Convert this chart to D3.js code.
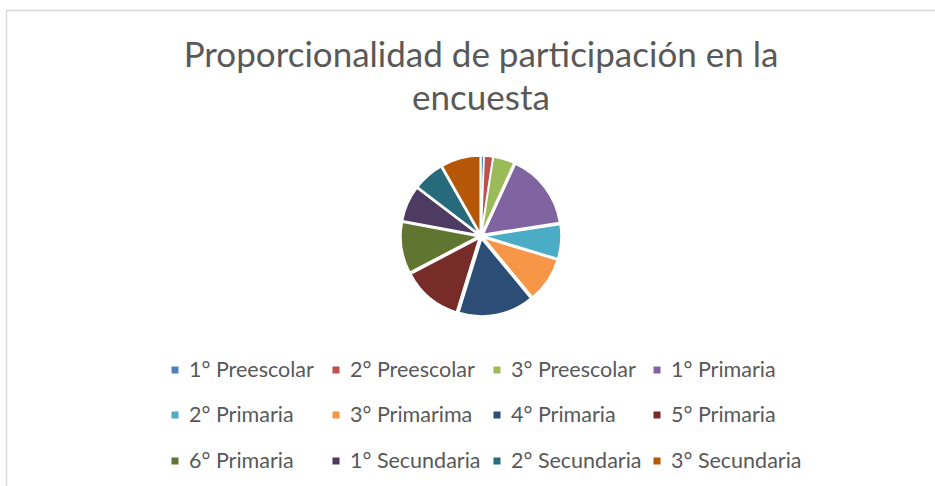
<!DOCTYPE html>
<html>
<head>
<meta charset="utf-8">
<script src="https://cdn.jsdelivr.net/npm/d3@7"></script>
<style>
  body { margin: 0; background: #fff; }
  svg { display: block; }
  text { font-family: Lato, "Open Sans", sans-serif; fill: #595959; }
</style>
</head>
<body>
<div class="chart"></div>
<script>
// Data (approx. percentages)
var categories = ['1° Preescolar', '2° Preescolar', '3° Preescolar', '1° Primaria',
  '2° Primaria', '3° Primarima', '4° Primaria', '5° Primaria',
  '6° Primaria', '1° Secundaria', '2° Secundaria', '3° Secundaria']
var values = [0.6, 1.8, 4.4, 15.7, 7.1, 9.3, 15.7, 12.5, 10.6, 7.4, 6.4, 8.2]
var colors = ['#4F81BD', '#C0504D', '#9BBB59', '#8064A2', '#4BACC6', '#F79646',
  '#2C4D75', '#772C2A', '#5F7530', '#4D3B62', '#276A7C', '#B65708']
var titleLines = ['Proporcionalidad de participación en la', 'encuesta']

var width = 935
var height = 486

var svg = d3.select('.chart')
  .append('svg')
  .attr('width', width)
  .attr('height', height)

// chart area border
svg.append('rect')
  .attr('x', 6.5)
  .attr('y', 10.5)
  .attr('width', width + 20)
  .attr('height', height + 20)
  .attr('fill', 'none')
  .attr('stroke', '#d9d9d9')
  .attr('stroke-width', 1.5)

// Title
svg.append('g')
  .selectAll('text')
  .data(titleLines)
  .enter()
  .append('text')
  .attr('x', 481)
  .attr('y', (d, i) => 67 + i * 43)
  .attr('text-anchor', 'middle')
  .style('font-size', '35px')
  .text(d => d)

// Pie
var cx = 481
var cy = 236
var radius = 77
var explode = 3

var pie = d3.pie().sort(null).value(d => d)
var arc = d3.arc().innerRadius(0).outerRadius(radius)

var slices = svg.append('g')
  .attr('transform', 'translate(' + cx + ',' + cy + ')')
  .selectAll('path')
  .data(pie(values))
  .enter()
  .append('path')
  .attr('d', arc)
  .attr('fill', (d, i) => colors[i])
  .attr('stroke', '#fff')
  .attr('stroke-width', 1.5)
  .attr('transform', d => {
    var a = (d.startAngle + d.endAngle) / 2
    return 'translate(' + (Math.sin(a) * explode) + ',' + (-Math.cos(a) * explode) + ')'
  })

// Legend, 4 columns x 3 rows (y = text baseline)
var colX = [175, 336, 497, 657]
var rowY = [377, 422, 468]

var legend = svg.append('g')
  .selectAll('g')
  .data(categories)
  .enter()
  .append('g')
  .attr('transform', (d, i) => 'translate(' + colX[i % 4] + ',' + rowY[Math.floor(i / 4)] + ')')

legend.append('rect')
  .attr('x', -3.5)
  .attr('y', -10.5)
  .attr('width', 7)
  .attr('height', 7)
  .attr('fill', (d, i) => colors[i])

legend.append('text')
  .attr('x', 14)
  .attr('y', 0)
  .style('font-size', '21.5px')
  .text(d => d)
</script>
</body>
</html>
